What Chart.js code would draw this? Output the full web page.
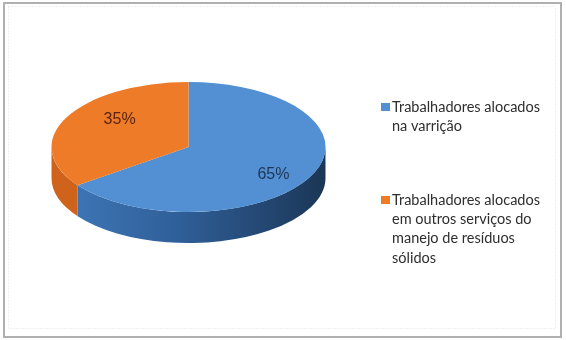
<!DOCTYPE html>
<html>
<head>
<meta charset="utf-8">
<script src="https://cdn.jsdelivr.net/npm/chart.js@4.4.1/dist/chart.umd.min.js"></script>
<style>
  html, body { margin: 0; padding: 0; background: #ffffff; }
  #wrap { width: 566px; height: 340px; position: relative; }
</style>
</head>
<body>
<div id="wrap"><canvas id="c" width="566" height="340"></canvas></div>
<script>
// ---- data ----
const categories = [
  "Trabalhadores alocados na varrição",
  "Trabalhadores alocados em outros serviços do manejo de resíduos sólidos"
];
const legendLines = [
  ["Trabalhadores alocados", "na varrição"],
  ["Trabalhadores alocados", "em outros serviços do", "manejo de resíduos", "sólidos"]
];
const shares = [65, 35];
const percentLabels = ["65%", "35%"];

// ---- style ----
const topColors = ["#5290d3", "#ee7b27"];
const sideStops = [
  [[0, "#4079ba"], [0.45, "#30609a"], [1, "#1b3656"]],
  [[0, "#d0631c"], [1, "#c65c18"]]
];
const labelColors = ["#1f3553", "#5a2411"];
const tilt = 65 / 137;   // vertical squash of the disc
const depth = 31;        // thickness of the disc in px

const pie3d = {
  id: "pie3d",
  beforeDatasetsDraw(chart) {
    const ctx = chart.ctx;
    const meta = chart.getDatasetMeta(0);
    const first = meta.data[0].getProps(["x", "y", "outerRadius"], true);
    const cx = first.x, cy = first.y, R = first.outerRadius;
    meta.data.forEach((arc, i) => {
      const p = arc.getProps(["startAngle", "endAngle"], true);
      const ranges = [];
      for (let s = -2; s <= 2; s++) {
        const a1 = p.startAngle + s * 2 * Math.PI, a2 = p.endAngle + s * 2 * Math.PI;
        const lo = Math.max(a1, 0), hi = Math.min(a2, Math.PI);
        if (hi > lo) ranges.push([lo, hi]);
      }
      const g = ctx.createLinearGradient(cx - R, 0, cx + R, 0);
      sideStops[i].forEach(st => g.addColorStop(st[0], st[1]));
      ranges.forEach(([lo, hi]) => {
        ctx.save();
        ctx.beginPath();
        ctx.ellipse(cx, cy, R, R * tilt, 0, lo, hi, false);
        ctx.ellipse(cx, cy + depth, R, R * tilt, 0, hi, lo, true);
        ctx.closePath();
        ctx.fillStyle = g;
        ctx.fill();
        ctx.restore();
      });
    });
    ctx.save();
    ctx.translate(cx, cy);
    ctx.scale(1, tilt);
    ctx.translate(-cx, -cy);
  },
  afterDatasetsDraw(chart) {
    const ctx = chart.ctx;
    ctx.restore();
    const meta = chart.getDatasetMeta(0);
    meta.data.forEach((arc, i) => {
      const p = arc.getProps(["x", "y", "startAngle", "endAngle", "outerRadius"], true);
      const mid = (p.startAngle + p.endAngle) / 2;
      const r = p.outerRadius * 0.63;
      const lx = p.x + 8 + r * Math.cos(mid);
      const ly = p.y + r * 0.71 * Math.sin(mid);
      ctx.save();
      ctx.font = "16px 'Liberation Sans', Arial, sans-serif";
      ctx.fillStyle = labelColors[i];
      ctx.textAlign = "center";
      ctx.textBaseline = "middle";
      ctx.fillText(percentLabels[i], lx, ly);
      ctx.restore();
    });
    const ds = chart.data.datasets[0];
    const starts = [107, 200];
    const lh = 19.3;
    ctx.save();
    ctx.font = "14.5px Lato, 'Open Sans', sans-serif";
    ctx.textBaseline = "middle";
    ctx.textAlign = "left";
    legendLines.forEach((lines, i) => {
      ctx.fillStyle = ds.backgroundColor[i];
      ctx.fillRect(381, starts[i] - 4, 9, 8);
      ctx.fillStyle = "#2e2e2e";
      lines.forEach((t, j) => ctx.fillText(t, 392, starts[i] + j * lh));
    });
    ctx.restore();
  },
  afterDraw(chart) {
    const ctx = chart.ctx;
    ctx.save();
    ctx.strokeStyle = "#e2e2e2";
    ctx.lineWidth = 1;
    ctx.setLineDash([1, 2]);
    ctx.strokeRect(8.5, 6.5, 547, 322);
    ctx.setLineDash([]);
    ctx.strokeStyle = "#b0b0b0";
    ctx.lineWidth = 2;
    ctx.strokeRect(4, 3, 557, 334);
    ctx.restore();
  }
};

new Chart(document.getElementById("c"), {
  type: "pie",
  data: {
    labels: categories,
    datasets: [{
      data: shares,
      backgroundColor: topColors,
      borderWidth: 0,
      clip: false
    }]
  },
  options: {
    responsive: false,
    animation: false,
    events: [],
    rotation: 0,
    layout: { padding: { left: 51, right: 240, top: 10, bottom: 56 } },
    plugins: { legend: { display: false }, tooltip: { enabled: false } }
  },
  plugins: [pie3d]
});
</script>
</body>
</html>
